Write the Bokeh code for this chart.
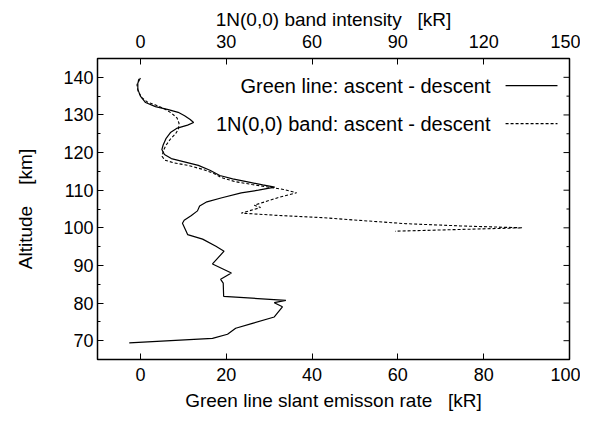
import math
from bokeh.plotting import figure
from bokeh.models import LinearAxis, Range1d, Label, FixedTicker
from bokeh.embed import file_html
from bokeh.resources import INLINE

# Green line slant emission rate (ascent - descent) [kR], bottom axis
green_alt = [139.8, 138.5, 136.8, 135.0, 133.3, 132.2, 131.4, 130.7, 129.8, 128.8,
             128.0, 127.3, 126.5, 125.3, 123.8, 122.0, 120.8, 119.5, 118.4, 117.6,
             116.6, 115.3, 113.9, 113.0, 112.2, 111.4, 110.8, 110.0, 109.3, 108.0,
             106.9, 105.8, 104.5, 103.2, 102.0, 101.2, 99.5, 98.2, 97.0, 95.1,
             93.8, 90.4, 88.0, 86.3, 85.3, 81.8, 80.7, 80.1, 79.0, 76.3,
             74.6, 73.3, 71.7, 70.6, 69.4]
green_kR = [0.0, -0.6, -0.6, 0.0, 1.2, 3.5, 6.5, 8.8, 10.3, 11.6,
            12.4, 11.0, 8.6, 7.0, 6.0, 5.3, 5.0, 5.6, 7.2, 10.0,
            13.5, 16.2, 18.5, 21.5, 25.0, 28.5, 31.3, 27.5, 23.5, 19.0,
            15.5, 13.8, 13.3, 11.8, 10.2, 9.8, 10.5, 11.0, 14.5, 17.6,
            19.5, 16.8, 21.2, 18.7, 19.3, 19.4, 33.9, 31.2, 33.1, 31.2,
            26.1, 22.2, 20.3, 16.8, -2.6]

# 1N(0,0) band intensity (ascent - descent) [kR], top axis
band_alt = [139.6, 138.0, 136.3, 134.6, 133.4, 132.6, 131.6, 130.4, 129.2, 127.8,
            126.3, 125.0, 123.6, 122.0, 120.5, 119.0, 118.0, 117.3, 116.6, 115.6,
            114.5, 113.3, 112.3, 111.5, 110.8, 110.2, 109.3, 108.0, 106.0, 105.4,
            103.9, 103.3, 102.7, 101.9, 101.1, 100.5, 100.0, 99.1]
band_kR = [-0.5, -1.2, -0.8, 0.5, 2.5, 5.5, 8.5, 11.0, 12.8, 13.5,
           13.3, 12.3, 10.5, 9.0, 8.0, 7.6, 8.5, 11.5, 16.5, 21.5,
           25.5, 28.5, 33.0, 39.0, 45.0, 50.0, 54.6, 48.0, 39.8, 42.0,
           35.3, 48.0, 63.6, 78.0, 92.7, 112.0, 133.5, 89.0]

bottom_ticks = [0, 20, 40, 60, 80, 100]
top_ticks = [0, 30, 60, 90, 120, 150]
alt_ticks = [70, 80, 90, 100, 110, 120, 130, 140]
alt_minor = [65, 75, 85, 95, 105, 115, 125, 135, 145]

legend_labels = ["Green line: ascent - descent", "1N(0,0) band: ascent - descent"]

FONT = "Liberation Sans"
TICK_FS = "18px"
TITLE_FS = "19px"
LEG_FS = "20px"
NB = "\u00a0"

X0, X1 = -10, 100
Y0, Y1 = 65, 145

p = figure(width=580, height=416, output_backend="svg", toolbar_location=None,
           x_range=Range1d(X0, X1), y_range=Range1d(Y0, Y1),
           min_border_left=97, min_border_right=11, min_border_top=58,
           min_border_bottom=57)
p.extra_x_ranges = {"top": Range1d(-15, 150)}
p.background_fill_color = "white"
p.border_fill_color = "white"
p.grid.visible = False
p.outline_line_color = "black"
p.outline_line_width = 1.5

p.line(green_kR, green_alt, line_color="black", line_width=1.2)
p.line(band_kR, band_alt, line_color="black", line_width=1.1, line_dash="3 2",
       x_range_name="top")

def style_axis(ax):
    ax.axis_line_color = None
    ax.major_tick_in = 6
    ax.major_tick_out = 0
    ax.minor_tick_in = 3
    ax.minor_tick_out = 0
    ax.major_tick_line_color = "black"
    ax.minor_tick_line_color = "black"
    ax.major_label_text_font = FONT
    ax.major_label_text_font_size = TICK_FS
    ax.major_label_text_color = "black"
    ax.axis_label_text_font = FONT
    ax.axis_label_text_font_size = TITLE_FS
    ax.axis_label_text_font_style = "normal"
    ax.axis_label_text_color = "black"

xb = p.xaxis[0]
xb.ticker = FixedTicker(ticks=bottom_ticks)
xb.axis_label = "Green line slant emisson rate" + NB * 3 + "[kR]"
style_axis(xb)
xb.major_label_standoff = 8
xb.axis_label_standoff = 6

yl = p.yaxis[0]
yl.ticker = FixedTicker(ticks=alt_ticks, minor_ticks=alt_minor)
yl.axis_label = "Altitude" + NB * 4 + "[km]"
style_axis(yl)
yl.major_label_standoff = 4
yl.axis_label_standoff = 24

xt = LinearAxis(x_range_name="top", ticker=FixedTicker(ticks=top_ticks),
                axis_label="1N(0,0) band intensity" + NB * 3 + "[kR]")
style_axis(xt)
xt.major_label_standoff = 11
xt.axis_label_standoff = 2
p.add_layout(xt, "above")

# mirrored ticks on the right frame edge (no labels)
p.ray(x=[X1] * len(alt_ticks), y=alt_ticks, length=6, angle=math.pi,
      length_units="screen", line_color="black", line_width=1)
p.ray(x=[X1] * len(alt_minor), y=alt_minor, length=3, angle=math.pi,
      length_units="screen", line_color="black", line_width=1)

# legend (gnuplot style: text then sample)
leg_y = [137.8, 127.7]
leg_text_x = 81.6
leg_line_x = [85.1, 97.2]
for lab, ly in zip(legend_labels, leg_y):
    p.add_layout(Label(x=leg_text_x, y=ly, text=lab, text_align="right",
                       text_baseline="middle", text_font=FONT, text_font_size=LEG_FS,
                       text_color="black"))
p.line(leg_line_x, [leg_y[0], leg_y[0]], line_color="black", line_width=1.2)
p.line(leg_line_x, [leg_y[1], leg_y[1]], line_color="black", line_width=1.1, line_dash="3 2")

open("out.html", "w").write(file_html(p, INLINE))
